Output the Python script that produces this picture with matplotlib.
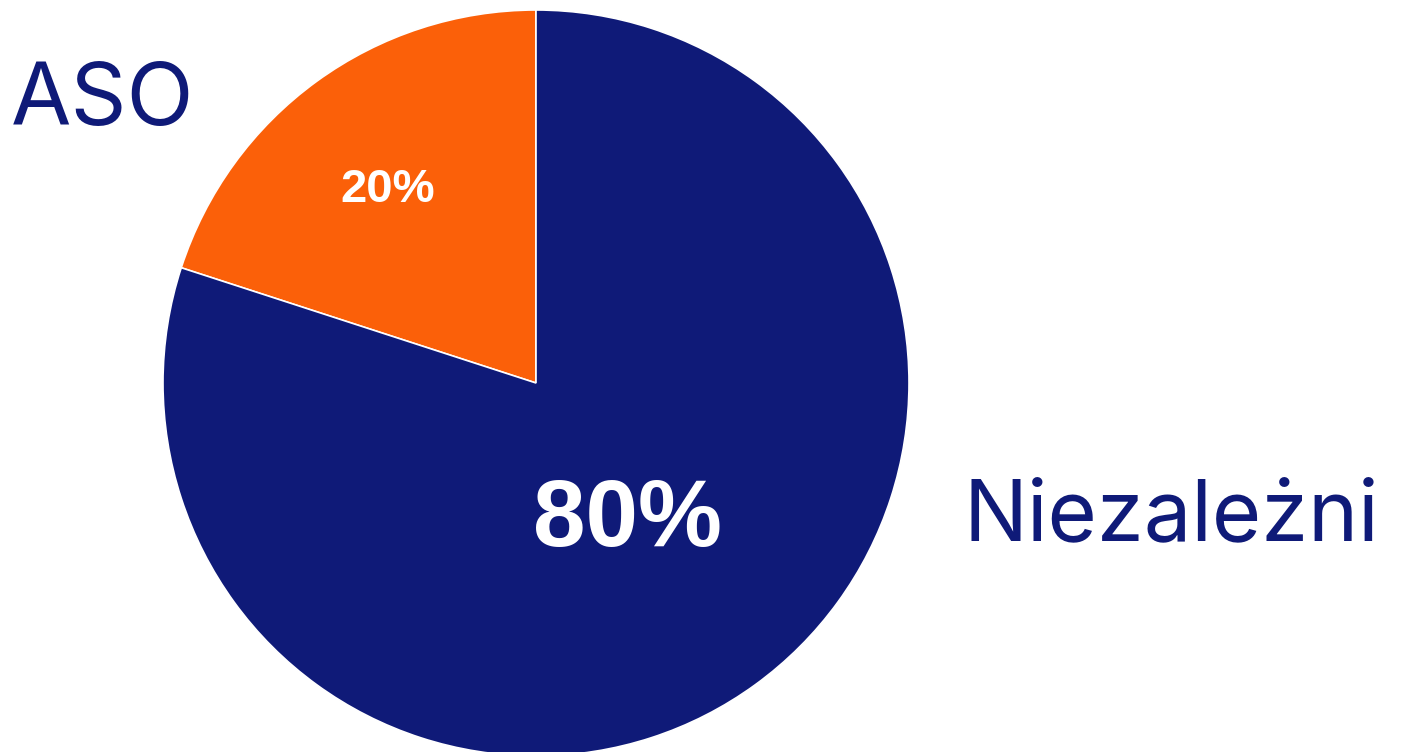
import matplotlib
matplotlib.use('Agg')
import matplotlib.pyplot as plt

labels = ['ASO', 'Niezależni']
values = [20, 80]
pct_labels = ['20%', '80%']
colors = ['#FB6009', '#0F1A78']

W, H = 1401, 752
fig = plt.figure(figsize=(W / 100, H / 100), dpi=100)
ax = fig.add_axes([0, 0, 1, 1])

# pie centre and radius in pixels
cx, cy, r = 536, 383, 373
ax.pie(values, colors=colors, startangle=90, counterclock=True, radius=1,
       wedgeprops=dict(edgecolor='white', linewidth=1.2))
ax.set_aspect('auto')
ax.set_xlim(-cx / r, (W - cx) / r)
ax.set_ylim(-(H - cy) / r, cy / r)
ax.axis('off')

font = 'Inter'
navy = colors[1]

def px(x, y):
    return x / W, 1 - y / H

fig.text(*px(103, 125), labels[0], fontsize=63, color=navy, ha='center',
         va='baseline', family=font)
fig.text(*px(1171, 540), labels[1], fontsize=61, color=navy, ha='center',
         va='baseline', family=font)
fig.text(*px(388, 202), pct_labels[0], fontsize=34, color='white', ha='center',
         va='baseline', family='Liberation Sans', fontweight='bold')
fig.text(*px(627, 546), pct_labels[1], fontsize=68, color='white', ha='center',
         va='baseline', family='Liberation Sans', fontweight='bold')

fig.savefig('out.png', dpi=100, facecolor='white')
